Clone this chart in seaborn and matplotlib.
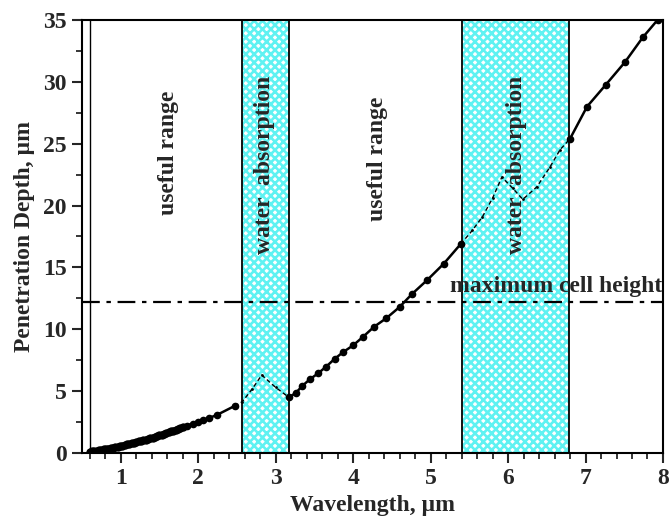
import matplotlib
matplotlib.use("Agg")
import matplotlib.pyplot as plt
import seaborn as sns
import pandas as pd
from matplotlib.ticker import MultipleLocator

# ---- data ----
dense_x = [0.60, 0.63, 0.66, 0.69, 0.72, 0.75, 0.78, 0.81, 0.84, 0.87, 0.90, 0.93, 0.96, 0.99,
           1.02, 1.05, 1.08, 1.11, 1.14, 1.17, 1.20, 1.23, 1.26, 1.29, 1.32, 1.35, 1.38, 1.41,
           1.44, 1.47, 1.50, 1.53, 1.56, 1.59, 1.62, 1.65, 1.68, 1.71, 1.74, 1.77, 1.80]
dense_y = [0.10, 0.13, 0.16, 0.19, 0.22, 0.26, 0.29, 0.33, 0.36, 0.40, 0.44, 0.48, 0.52, 0.56,
           0.60, 0.65, 0.69, 0.74, 0.78, 0.83, 0.88, 0.93, 0.98, 1.03, 1.08, 1.14, 1.19, 1.25,
           1.31, 1.37, 1.43, 1.49, 1.55, 1.61, 1.68, 1.74, 1.81, 1.88, 1.95, 2.02, 2.09]
seg1_x = [1.85, 1.93, 2.00, 2.06, 2.14, 2.24, 2.47]
seg1_y = [2.20, 2.38, 2.50, 2.67, 2.83, 3.07, 3.80]
abs1_x = [2.47, 2.57, 2.70, 2.82, 3.00, 3.17, 3.26]
abs1_y = [3.80, 4.15, 5.20, 6.30, 5.30, 4.50, 4.85]
seg2_x = [3.17, 3.26, 3.34, 3.44, 3.55, 3.65, 3.76, 3.87, 4.00, 4.13, 4.27, 4.43, 4.60, 4.76,
          4.96, 5.17, 5.39]
seg2_y = [4.50, 4.85, 5.40, 5.95, 6.45, 6.97, 7.60, 8.15, 8.70, 9.40, 10.20, 10.90, 11.80,
          12.85, 14.00, 15.30, 16.90]
abs2_x = [5.39, 5.54, 5.67, 5.80, 5.92, 6.06, 6.19, 6.37, 6.54, 6.67, 6.80]
abs2_y = [16.90, 18.00, 19.10, 20.60, 22.30, 21.40, 20.50, 21.50, 23.10, 24.50, 25.40]
seg3_x = [6.80, 7.02, 7.26, 7.51, 7.74, 7.93]
seg3_y = [25.40, 28.00, 29.75, 31.60, 33.60, 35.00]

bands = [(2.56, 3.17), (5.41, 6.79)]
cell_height = 12.2
visible_limit = 0.6

xlabel = "Wavelength, \u00b5m"
ylabel = "Penetration Depth, \u00b5m"

# ---- style ----
sns.set_theme(style="ticks")
plt.rcParams["font.family"] = ["Liberation Serif", "DejaVu Serif"]
plt.rcParams["font.weight"] = "bold"
plt.rcParams["hatch.linewidth"] = 1.9

fig = plt.figure(figsize=(6.69, 5.19), dpi=100)
ax = fig.add_axes([0.1226, 0.1272, 0.991 - 0.1226, 0.9615 - 0.1272])

cyan = "#5ff2f2"
for (a, b) in bands:
    ax.axvspan(a, b, facecolor="white", edgecolor=cyan, hatch="xxxx", linewidth=0, zorder=1)
    ax.axvline(a, color="black", lw=1.3, zorder=2)
    ax.axvline(b, color="black", lw=1.3, zorder=2)

ax.axvline(visible_limit, color="black", lw=1.0, zorder=2)
ax.axhline(cell_height, color="black", lw=1.6, linestyle=(0, (8, 3, 2, 3)), zorder=2)

df_dense = pd.DataFrame({"x": dense_x, "y": dense_y})
sns.lineplot(data=df_dense, x="x", y="y", ax=ax, color="black", lw=4.0, marker="o",
             markersize=6, markeredgewidth=0, estimator=None, sort=False, zorder=4)
for sx, sy in [(seg1_x, seg1_y), (seg2_x, seg2_y), (seg3_x, seg3_y)]:
    d = pd.DataFrame({"x": sx, "y": sy})
    sns.lineplot(data=d, x="x", y="y", ax=ax, color="black", lw=1.8, marker="o",
                 markersize=5.5, markeredgewidth=0, estimator=None, sort=False, zorder=4)
for sx, sy in [(abs1_x, abs1_y), (abs2_x, abs2_y)]:
    d = pd.DataFrame({"x": sx, "y": sy})
    sns.lineplot(data=d, x="x", y="y", ax=ax, color="black", lw=1.0,
                 linestyle=(0, (3, 2)), marker="o", markersize=2, markeredgewidth=0,
                 estimator=None, sort=False, zorder=4)

# connect dense to sparse
ax.plot([dense_x[-1], seg1_x[0]], [dense_y[-1], seg1_y[0]], color="black", lw=3, zorder=4)

ax.set_xlim(0.5, 8)
ax.set_ylim(0, 35)
ax.xaxis.set_major_locator(MultipleLocator(1))
ax.xaxis.set_minor_locator(MultipleLocator(0.2))
ax.yaxis.set_major_locator(MultipleLocator(5))
ax.yaxis.set_minor_locator(MultipleLocator(2.5))
ax.tick_params(which="major", length=7, width=1.5, labelsize=17, direction="out", pad=4)
ax.tick_params(which="minor", length=4, width=1.3, direction="out")
for lab in ax.get_xticklabels() + ax.get_yticklabels():
    lab.set_fontweight("bold")
for s in ax.spines.values():
    s.set_linewidth(1.5)
    s.set_color("black")
    s.set_visible(True)

ax.set_xlabel(xlabel, fontsize=17, fontweight="bold", labelpad=4)
ax.set_ylabel(ylabel, fontsize=17, fontweight="bold", labelpad=6)

tkw = dict(fontsize=17, fontweight="bold", rotation=90, ha="center", va="center", zorder=5)
ax.text(1.62, 24.3, "useful range", **tkw)
ax.text(4.31, 23.8, "useful range", **tkw)
ax.text(2.86, 23.3, "water  absorption", **tkw)
ax.text(6.11, 23.3, "water  absorption", **tkw)
ax.text(7.99, 12.6, "maximum cell height", fontsize=17, fontweight="bold",
        ha="right", va="bottom", zorder=5)

fig.savefig("out.png", dpi=100)
